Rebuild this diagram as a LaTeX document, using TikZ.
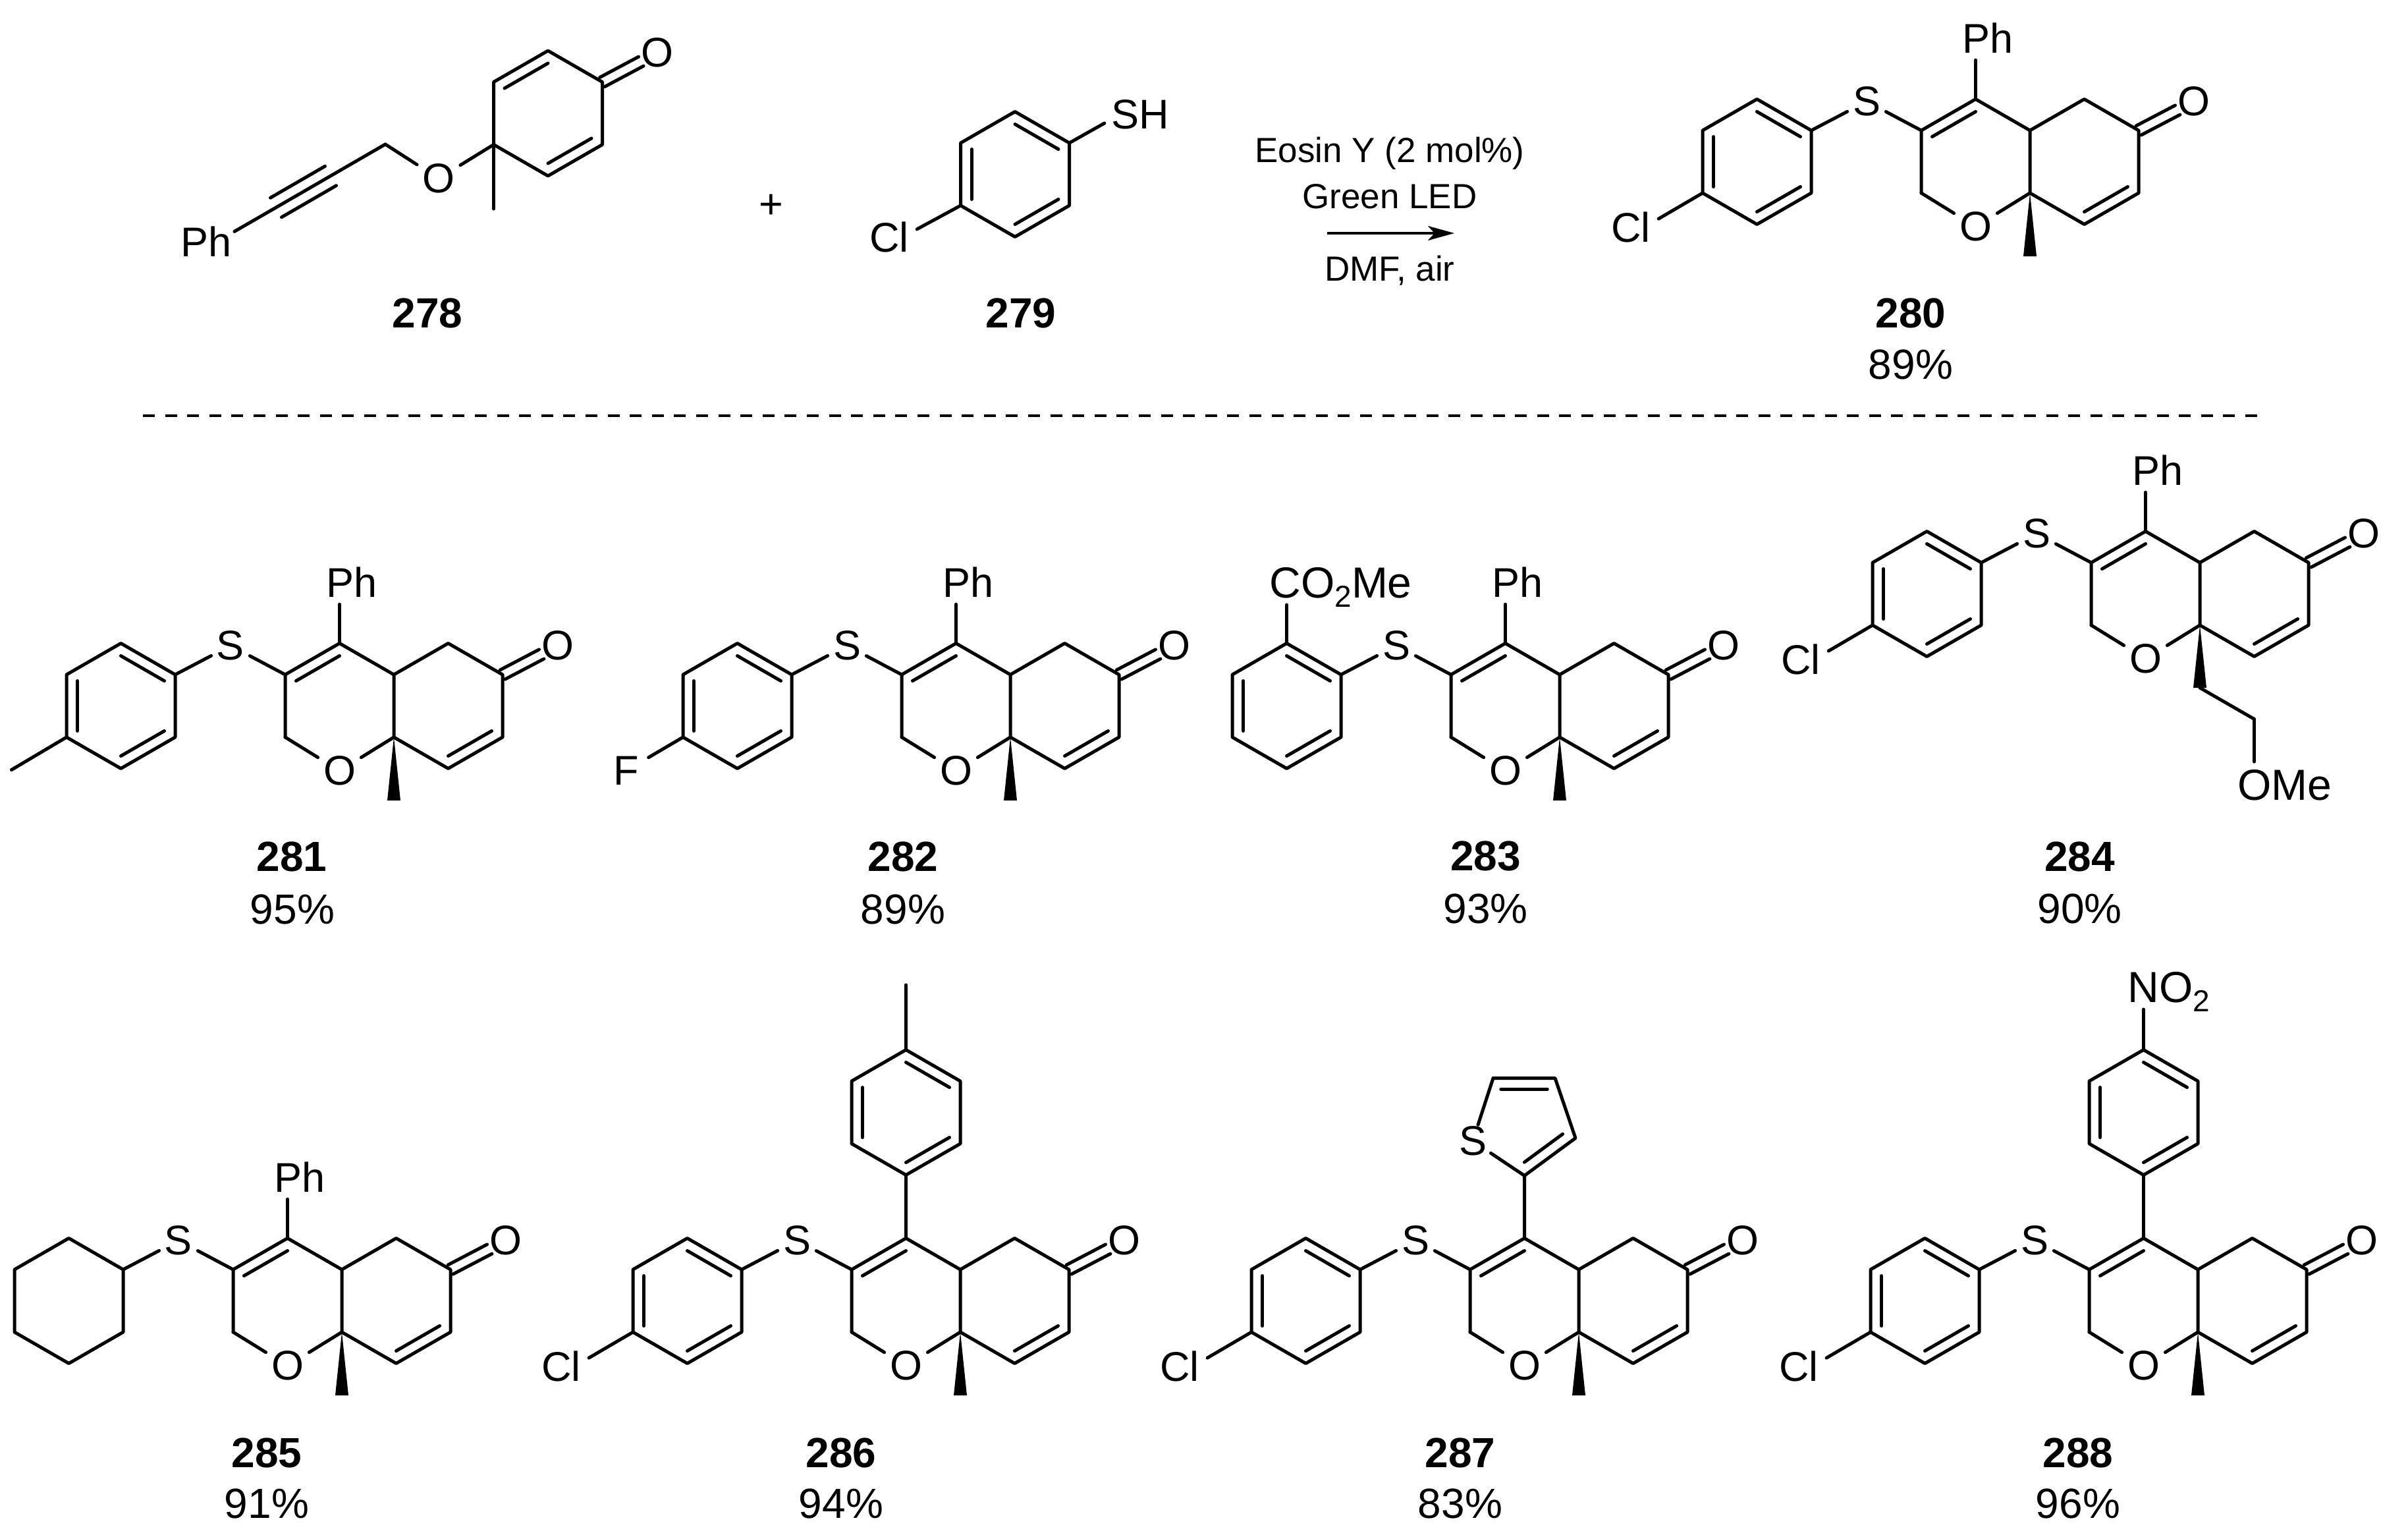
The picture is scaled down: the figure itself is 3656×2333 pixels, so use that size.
\documentclass[tikz,border=0pt]{standalone}
\usepackage{fontspec}
\setmainfont{Liberation Sans}
\usetikzlibrary{calc,arrows.meta}
\tikzset{
  bond/.style={draw=black,line width=2.5pt,line cap=round,line join=round},
  atomlab/.style={font=\fontsize{31.5}{36}\selectfont,inner xsep=4pt,inner ysep=1pt},
  sidelab/.style={font=\fontsize{31.5}{36}\selectfont,inner xsep=6pt,inner ysep=1pt},
  uplab/.style={font=\fontsize{31.5}{36}\selectfont,inner xsep=0pt,inner ysep=5pt},
  widelab/.style={font=\fontsize{33}{36}\selectfont,inner xsep=0pt,inner ysep=5pt},
  cond/.style={font=\fontsize{26.5}{30}\selectfont,inner sep=0pt},
  cmpd/.style={font=\fontsize{32}{36}\selectfont\bfseries,inner sep=0pt},
  yield/.style={font=\fontsize{32}{36}\selectfont,inner sep=0pt},
}
\newcommand{\bnd}[2]{\draw[bond] (#1) -- (#2);}
\newcommand{\inr}[3]{\draw[bond] ($(#1)!.2!(#3)$) -- ($(#2)!.2!(#3)$);}
\newcommand{\subt}[1]{\smash{\lower7pt\hbox{\fontsize{23}{24}\selectfont #1}}}
% ring: prefix, centre x, centre y
\newcommand{\hexa}[3]{%
  \coordinate (#1c) at (#2,#3);
  \coordinate (#11) at ($(#2,#3)+(82.5,-47.5)$);
  \coordinate (#12) at ($(#2,#3)+(82.5,47.5)$);
  \coordinate (#13) at ($(#2,#3)+(0,95)$);
  \coordinate (#14) at ($(#2,#3)+(-82.5,47.5)$);
  \coordinate (#15) at ($(#2,#3)+(-82.5,-47.5)$);
  \coordinate (#16) at ($(#2,#3)+(0,-95)$);
  \draw[bond] (#11) -- (#12) -- (#13) -- (#14) -- (#15) -- (#16) -- cycle;}
\newcommand{\arene}[3]{\hexa{#1}{#2}{#3}%
  \inr{#11}{#16}{#1c}\inr{#12}{#13}{#1c}\inr{#14}{#15}{#1c}}
% C=O: carbon, oxygen node
\newcommand{\carbonyl}[2]{%
  \draw[bond,shorten >=14pt] ($(#1)!4pt!90:(#2)$) -- ($(#2)!4pt!-90:(#1)$);
  \draw[bond,shorten >=14pt] ($(#1)!4pt!-90:(#2)$) -- ($(#2)!4pt!90:(#1)$);}
\newcommand{\wdg}[2]{\fill (#1) -- ($(#2)+(-10,0)$) -- ($(#2)+(10,0)$) -- cycle;}
% bicyclic core, origin at the ring-fusion CH
\newcommand{\core}{%
  \coordinate (F) at (0,0);
  \coordinate (C4) at (-82.5,-47.5);
  \coordinate (C3) at (-165,0);
  \coordinate (C2) at (-165,95);
  \coordinate (C8a) at (0,95);
  \coordinate (C5) at (82.5,-47.5);
  \coordinate (C6) at (165,0);
  \coordinate (C7) at (165,95);
  \coordinate (C8) at (82.5,142.5);
  \coordinate (cL) at (-82.5,47.5);
  \coordinate (cR) at (82.5,47.5);
  \node[atomlab] (O1) at (-82.5,146) {O};
  \node[atomlab] (S) at (-248,-44) {S};
  \node[atomlab] (Oc) at (249,-44) {O};
  \draw[bond] (C2) -- (C3) -- (C4) -- (F) -- (C5) -- (C6) -- (C7) -- (C8) -- (C8a) -- (F);
  \bnd{C3}{S}\bnd{C2}{O1}\bnd{O1}{C8a}
  \inr{C3}{C4}{cL}\inr{C7}{C8}{cR}
  \carbonyl{C6}{Oc}}
\newcommand{\mewedge}{\coordinate (W) at (0,191);\wdg{C8a}{W}}
\newcommand{\phgroup}{\node[uplab] (Ph) at (-64,-140) {Ph};\draw[bond] (C4) -- (Ph.south -| C4);}
\newcommand{\clgroup}{\node[sidelab] (Cl) at (-606,147) {Cl};\draw[bond] (a4) -- (Cl.17);}
\begin{document}
\begin{tikzpicture}[x=0.5pt,y=-0.5pt]
\useasboundingbox (0,0) rectangle (3656,2333);
\fill[white] (0,0) rectangle (3656,2333);

% 278
\begin{scope}[name prefix=m278-]
  \hexa{r}{832}{172}
  \inr{r5}{r6}{rc}\inr{r2}{r3}{rc}
  \node[atomlab] (Oc) at (998,80) {O};
  \carbonyl{r1}{Oc}
  \coordinate (Me) at (749.5,317);
  \bnd{r4}{Me}
  \node[atomlab] (Oe) at (666,271) {O};
  \bnd{r4}{Oe}
  \coordinate (CH) at (585,219);
  \bnd{Oe}{CH}
  \coordinate (Ca) at (502,267);
  \coordinate (Cb) at (419,315);
  \bnd{CH}{Ca}\bnd{Ca}{Cb}
  \draw[bond] ($(Ca)!8.5pt!90:(Cb)$) -- ($(Cb)!8.5pt!-90:(Ca)$);
  \draw[bond] ($(Ca)!8.5pt!-90:(Cb)$) -- ($(Cb)!8.5pt!90:(Ca)$);
  \node[font=\fontsize{31.5}{36}\selectfont,inner xsep=2pt,inner ysep=1pt] (Ph) at (313,367) {Ph};
  \draw[bond] (Cb) -- (Ph.20);
\end{scope}
\node[cmpd] (l278) at (649,475) {278};
\node[font=\fontsize{31.5}{36}\selectfont,inner sep=0pt] (plus) at (1171,313) {+};

% 279
\begin{scope}[name prefix=m279-]
  \arene{r}{1541}{264.5}
  \node[font=\fontsize{31.5}{36}\selectfont,inner xsep=5pt,inner ysep=1pt] (SH) at (1731,173.5) {SH};
  \draw[bond] (r1) -- (SH.194);
  \node[sidelab] (Cl) at (1350,360) {Cl};
  \draw[bond] (r4) -- (Cl.16);
\end{scope}
\node[cmpd] (l279) at (1550,475) {279};

% conditions
\node[cond] (c1) at (2110,233) {Eosin Y (2 mol\%)};
\node[cond] (c2) at (2110,298) {Green LED};
\node[cond] (c3) at (2110,411) {DMF, air};
\coordinate (arA) at (2015,354);
\coordinate (arB) at (2208,354);
\draw[line width=2pt,-{Stealth[length=20pt,width=11pt,inset=5pt]}] (arA) -- (arB);

% 280
\begin{scope}[shift={(3082,198)},name prefix=m280-]
  \core\mewedge\phgroup
  \arene{a}{-414.5}{47.5}\bnd{S}{a1}\clgroup
\end{scope}
\node[cmpd] (l280) at (2901,475) {280};
\node[yield] (y280) at (2901,553) {89\%};

% separator
\coordinate (dA) at (217,631);
\coordinate (dB) at (3428,631);
\draw[line width=2.4pt,dash pattern=on 9pt off 7.8pt] (dA) -- (dB);

% 281
\begin{scope}[shift={(598,1024)},name prefix=m281-]
  \core\mewedge\phgroup
  \arene{a}{-414.5}{47.5}\bnd{S}{a1}
  \coordinate (Me) at (-580.5,144.5);
  \bnd{a4}{Me}
\end{scope}
\node[cmpd] (l281) at (443,1300) {281};
\node[yield] (y281) at (444,1380) {95\%};

% 282
\begin{scope}[shift={(1534,1024)},name prefix=m282-]
  \core\mewedge\phgroup
  \arene{a}{-414.5}{47.5}\bnd{S}{a1}
  \node[sidelab,inner xsep=7pt] (Fl) at (-583,146) {F};
  \draw[bond] (a4) -- (Fl.31);
\end{scope}
\node[cmpd] (l282) at (1371,1300) {282};
\node[yield] (y282) at (1371,1380) {89\%};

% 283
\begin{scope}[shift={(2368,1024)},name prefix=m283-]
  \core\mewedge\phgroup
  \arene{a}{-414.5}{47.5}\bnd{S}{a1}
  \node[widelab,anchor=base west] (Es) at (-441,-117) {CO\subt{2}Me};
  \draw[bond] (a6) -- (Es.south -| a6);
\end{scope}
\node[cmpd] (l283) at (2255.5,1300) {283};
\node[yield] (y283) at (2255.5,1379) {93\%};

% 284
\begin{scope}[shift={(3340,854)},name prefix=m284-]
  \core\phgroup
  \arene{a}{-414.5}{47.5}\bnd{S}{a1}\clgroup
  \coordinate (W) at (0,190);
  \wdg{C8a}{W}
  \coordinate (CH) at (82.5,237.5);
  \bnd{W}{CH}
  \node[widelab,inner ysep=6pt] (OMe) at (128.5,338) {OMe};
  \draw[bond] (CH) -- (OMe.north -| CH);
\end{scope}
\node[cmpd] (l284) at (3157.5,1300) {284};
\node[yield] (y284) at (3157.5,1379) {90\%};

% 285
\begin{scope}[shift={(519,1927)},name prefix=m285-]
  \core\mewedge\phgroup
  \hexa{a}{-414.5}{47.5}\bnd{S}{a1}
\end{scope}
\node[cmpd] (l285) at (405,2205) {285};
\node[yield] (y285) at (405,2282) {91\%};

% 286
\begin{scope}[shift={(1458,1927)},name prefix=m286-]
  \core\mewedge
  \arene{a}{-414.5}{47.5}\bnd{S}{a1}\clgroup
  \arene{b}{-82.5}{-238.5}\bnd{C4}{b3}
  \coordinate (Me) at (-82.5,-432);
  \bnd{b6}{Me}
\end{scope}
\node[cmpd] (l286) at (1277,2205) {286};
\node[yield] (y286) at (1277,2282) {94\%};

% 287
\begin{scope}[shift={(2397,1927)},name prefix=m287-]
  \core\mewedge
  \arene{a}{-414.5}{47.5}\bnd{S}{a1}\clgroup
  \coordinate (t2) at (-82.5,-142.5);
  \coordinate (t3) at (-5,-199.5);
  \coordinate (t4) at (-36,-290.5);
  \coordinate (t5) at (-130,-290.5);
  \coordinate (tc) at (-83,-224);
  \node[font=\fontsize{31.5}{36}\selectfont,inner xsep=3pt,inner ysep=1pt] (St) at (-161,-195) {S};
  \draw[bond] (C4) -- (t2) -- (t3) -- (t4) -- (t5);
  \bnd{t5}{St}\bnd{St}{t2}
  \draw[bond] ($(t2)!.25!(tc)$) -- ($(t3)!.25!(tc)$);
  \draw[bond] ($(t4)!.25!(tc)$) -- ($(t5)!.25!(tc)$);
\end{scope}
\node[cmpd] (l287) at (2217,2205) {287};
\node[yield] (y287) at (2217,2282) {83\%};

% 288
\begin{scope}[shift={(3337,1927)},name prefix=m288-]
  \core\mewedge
  \arene{a}{-414.5}{47.5}\bnd{S}{a1}\clgroup
  \arene{b}{-82.5}{-238.5}\bnd{C4}{b3}
  \node[widelab,anchor=base west] (N) at (-107,-406) {NO\subt{2}};
  \draw[bond] (b6) -- (N.south -| b6);
\end{scope}
\node[cmpd] (l288) at (3155,2205) {288};
\node[yield] (y288) at (3155,2282) {96\%};
\end{tikzpicture}
\end{document}
